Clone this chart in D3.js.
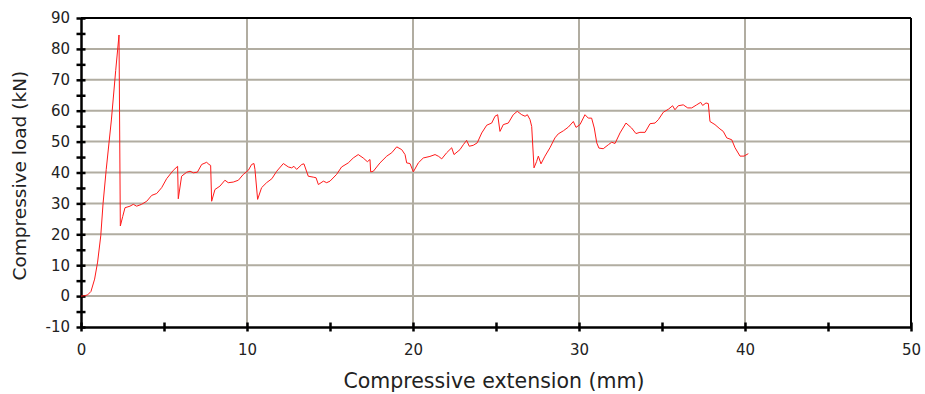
<!DOCTYPE html>
<html lang="en">
<head>
<meta charset="UTF-8">
<title>Compressive load vs extension</title>
<script src="https://cdnjs.cloudflare.com/ajax/libs/d3/7.9.0/d3.min.js"></script>
<style>
  body { margin: 0; background: #fff; font-family: 'DejaVu Sans', Verdana, sans-serif; }
  svg text { fill: #222; }
</style>
</head>
<body>
<div id="root"></div>
<script>
// extension (mm)
const extension = [0, 0.2, 0.4, 0.6, 0.82, 1.0, 1.19, 1.33, 1.52, 1.83, 2.09, 2.29,
  2.37, 2.51, 2.65, 2.95, 3.15, 3.35, 3.65, 3.96, 4.26, 4.56, 4.86, 5.16, 5.56, 5.82,
  5.86, 6.06, 6.37, 6.57, 6.77, 7.01, 7.27, 7.57, 7.71, 7.81,
  7.87, 8.07, 8.37, 8.67, 8.87, 9.17, 9.48, 9.78, 10.08, 10.28, 10.42, 10.48,
  10.64, 10.88, 11.18, 11.5, 11.79, 12.19, 12.49, 12.69, 12.83, 12.99, 13.3, 13.43,
  13.69, 13.99, 14.16, 14.3, 14.6, 14.8, 15.0, 15.4, 15.7, 16.1, 16.4, 16.7, 17.0, 17.25, 17.41,
  17.45, 17.61, 18.01, 18.42, 18.72, 19.02, 19.32, 19.52, 19.62, 19.82, 20.02,
  20.32, 20.62, 21.02, 21.33, 21.55, 21.73, 22.03, 22.33, 22.47, 22.83, 23.03, 23.23,
  23.39, 23.63, 23.87, 24.14, 24.44, 24.74, 24.94, 25.1, 25.24, 25.44, 25.74, 26.04,
  26.28, 26.55, 26.75, 26.89, 27.05, 27.15, 27.29, 27.45, 27.55, 27.71, 27.95, 28.25,
  28.55, 28.75, 29.06, 29.36, 29.66, 29.82, 30.06, 30.36, 30.56, 30.76, 30.92, 31.07,
  31.2, 31.46, 31.77, 31.97, 32.17, 32.47, 32.83, 33.17, 33.43, 33.67, 33.98, 34.28,
  34.58, 34.78, 35.08, 35.39, 35.64, 35.78, 35.98, 36.28, 36.55, 36.79, 37.09, 37.33,
  37.45, 37.65, 37.79, 37.89, 38.19, 38.49, 38.69, 38.9, 39.2, 39.4, 39.7, 39.94, 40.2];

// compressive load (kN)
const load = [0, 0.1, 0.4, 1.5, 5.5, 11, 19.5, 30, 41, 57, 73, 84.5,
  22.7, 25.7, 28.6, 29.1, 29.7, 29.1, 29.7, 30.7, 32.6, 33.2, 35.1, 38, 40.7, 42,
  31.5, 38.8, 40.1, 40.4, 39.9, 40.1, 42.6, 43.3, 42.6, 42.3,
  30.7, 34.5, 35.6, 37.5, 36.7, 36.9, 37.5, 39.4, 40.7, 42.6, 42.9, 41,
  31.3, 35.1, 36.7, 38, 40.4, 42.9, 41.8, 41.5, 42, 41, 42.6, 42.8,
  38.8, 38.5, 38.3, 36.1, 37.2, 36.7, 37.2, 39.4, 41.8, 43.1, 44.7, 45.8, 44.7, 43.5, 44.2,
  40.2, 40.4, 43.1, 45.3, 46.4, 48.3, 47.4, 45.8, 43.1, 42.9, 40.2,
  43.1, 44.7, 45.2, 45.8, 45.2, 44.4, 46.4, 48, 45.8, 47.4, 49, 50.4,
  48.5, 48.8, 49.6, 52.8, 55.3, 56, 58.2, 58.7, 53.3, 55.5, 56, 58.7,
  59.8, 58.7, 58.2, 58.7, 57.1, 54.9, 41.5, 43.6, 45.3, 42.8, 45.3, 48,
  51.2, 52.5, 53.5, 54.7, 56.5, 54.6, 55.5, 58.7, 57.6, 57.6, 54.4, 49.6,
  47.9, 47.7, 49, 49.8, 49.4, 52.8, 56, 54.4, 52.6, 53, 53, 55.8,
  56, 57.1, 59.5, 60.5, 61.6, 60.3, 61.6, 61.9, 60.9, 60.9, 61.9, 62.7,
  61.7, 62.5, 62.3, 56.5, 55.5, 54.1, 53.3, 51.2, 50.6, 48, 45.3, 45.3, 46.1];

const xTicks = [0, 10, 20, 30, 40, 50];
const yTicks = [-10, 0, 10, 20, 30, 40, 50, 60, 70, 80, 90];

const W = 925, H = 394;
const margin = { top: 18, right: 14, bottom: 67, left: 81 };
const w = W - margin.left - margin.right;
const h = H - margin.top - margin.bottom;

const svg = d3.select("#root").append("svg")
  .attr("width", W).attr("height", H);
const g = svg.append("g").attr("transform", `translate(${margin.left},${margin.top})`);

const x = d3.scaleLinear().domain([0, 50]).range([0, w]);
const y = d3.scaleLinear().domain([-10, 90]).range([h, 0]);

// grid
const gridColor = "#b1ada1";
g.append("g").selectAll("line").data(yTicks.filter(d => d > -10 && d < 90)).enter()
  .append("line")
  .attr("x1", 0).attr("x2", w)
  .attr("y1", d => y(d)).attr("y2", d => y(d))
  .attr("stroke", gridColor).attr("stroke-width", 2);
g.append("g").selectAll("line").data(xTicks.filter(d => d > 0 && d < 50)).enter()
  .append("line")
  .attr("y1", 0).attr("y2", h)
  .attr("x1", d => x(d)).attr("x2", d => x(d))
  .attr("stroke", gridColor).attr("stroke-width", 2);

// frame top / right
g.append("line").attr("x1", 0).attr("x2", w).attr("y1", 0).attr("y2", 0)
  .attr("stroke", "#000").attr("stroke-width", 2);
g.append("line").attr("x1", w).attr("x2", w).attr("y1", 0).attr("y2", h)
  .attr("stroke", "#000").attr("stroke-width", 2);

// axes
const yAxis = g.append("g")
  .call(d3.axisLeft(y).tickValues(d3.range(-10, 91, 5)).tickSize(0).tickPadding(6)
    .tickFormat(d => d % 10 === 0 ? d : ""));
const xAxis = g.append("g").attr("transform", `translate(0,${h})`)
  .call(d3.axisBottom(x).tickValues(d3.range(0, 51, 5)).tickSize(0).tickPadding(17)
    .tickFormat(d => d % 10 === 0 ? d : ""));

[yAxis, xAxis].forEach(a => {
  a.select(".domain").attr("stroke", "#000").attr("stroke-width", 2.5);
  a.selectAll("text").style("font-size", "15px").style("font-family", "'DejaVu Sans', sans-serif").attr("fill", "#222");
});
yAxis.selectAll(".tick line").attr("x1", -4.5).attr("x2", 4.5).attr("stroke", "#000").attr("stroke-width", 2.5);
xAxis.selectAll(".tick line").attr("y1", -4.5).attr("y2", 4.5).attr("stroke", "#000").attr("stroke-width", 2.5);
yAxis.selectAll("text").attr("x", -11);

// curve
const pts = extension.map((e, i) => [e, load[i]]);
g.append("path")
  .datum(pts)
  .attr("fill", "none")
  .attr("stroke", "#ff1a1a")
  .attr("stroke-width", 1)
  .attr("d", d3.line().x(d => x(d[0])).y(d => y(d[1])));

// titles
svg.append("text")
  .attr("x", margin.left + x(25) - 2).attr("y", 388)
  .attr("text-anchor", "middle")
  .style("font-size", "20.5px")
  .text("Compressive extension (mm)");
svg.append("text")
  .attr("transform", `translate(26,${margin.top + y(39)}) rotate(-90)`)
  .attr("text-anchor", "middle")
  .style("font-size", "18.5px")
  .text("Compressive load (kN)");
</script>
</body>
</html>
